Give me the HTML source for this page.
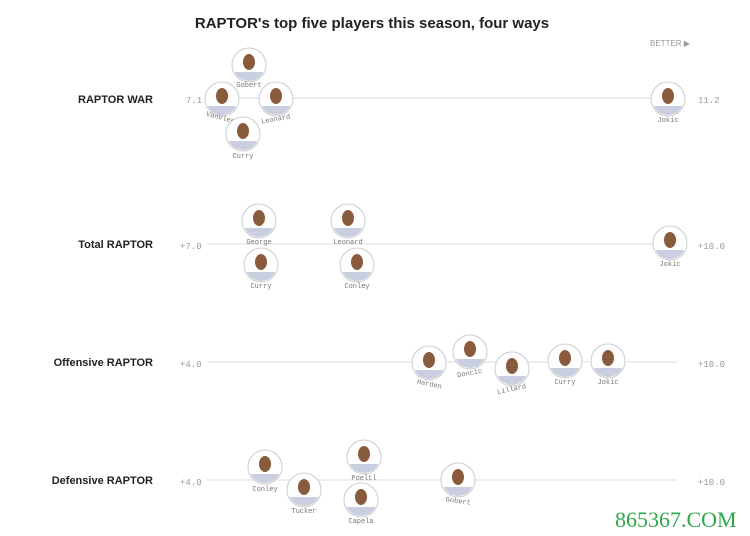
<!DOCTYPE html><html><head><style>body{margin:0;background:#fff;width:750px;height:531px;overflow:hidden}</style></head><body>
<svg width="750" height="531" xmlns="http://www.w3.org/2000/svg" font-family="Liberation Sans, sans-serif">
<defs><clipPath id="c"><circle r="16"/></clipPath>
<g id="p"><circle r="17" fill="#fff" stroke="#ccc"/><g clip-path="url(#c)"><ellipse cx="0" cy="-3" rx="6" ry="8" fill="#8a5a3c"/><rect x="-14" y="7" width="28" height="12" fill="#c9cfe0"/></g></g>
</defs>
<text x="372" y="28" text-anchor="middle" font-size="15" font-weight="bold" fill="#222">RAPTOR's top five players this season, four ways</text>
<text x="650" y="46" font-size="8" fill="#999">BETTER ▶</text>
<g font-size="11" font-weight="bold" fill="#222" text-anchor="end">
<text x="153" y="103">RAPTOR WAR</text><text x="153" y="248">Total RAPTOR</text><text x="153" y="366">Offensive RAPTOR</text><text x="153" y="484">Defensive RAPTOR</text></g>
<g stroke="#ddd" stroke-width="1"><line x1="207" y1="98" x2="677" y2="98"/><line x1="207" y1="244" x2="677" y2="244"/><line x1="207" y1="362" x2="677" y2="362"/><line x1="207" y1="480" x2="677" y2="480"/></g>
<g font-family="Liberation Mono, monospace" font-size="9" fill="#999">
<text x="186" y="103">7.1</text><text x="698" y="103">11.2</text>
<text x="180" y="249">+7.0</text><text x="698" y="249">+10.0</text>
<text x="180" y="367">+4.0</text><text x="698" y="367">+10.0</text>
<text x="180" y="485">+4.0</text><text x="698" y="485">+10.0</text></g>
<g font-family="Liberation Mono, monospace" font-size="7" fill="#777" text-anchor="middle">
<use href="#p" x="249" y="65"/><text x="249" y="87">Gobert</text>
<use href="#p" x="222" y="99"/><text x="222" y="120" transform="rotate(15 222 120)">VanVleet</text>
<use href="#p" x="276" y="99"/><text x="276" y="121" transform="rotate(-10 276 121)">Leonard</text>
<use href="#p" x="243" y="134"/><text x="243" y="158">Curry</text>
<use href="#p" x="668" y="99"/><text x="668" y="122">Jokic</text>
<use href="#p" x="259" y="221"/><text x="259" y="244">George</text>
<use href="#p" x="348" y="221"/><text x="348" y="244">Leonard</text>
<use href="#p" x="261" y="265"/><text x="261" y="288">Curry</text>
<use href="#p" x="357" y="265"/><text x="357" y="288">Conley</text>
<use href="#p" x="670" y="243"/><text x="670" y="266">Jokic</text>
<use href="#p" x="429" y="363"/><text x="429" y="386" transform="rotate(12 429 386)">Harden</text>
<use href="#p" x="470" y="352"/><text x="470" y="375" transform="rotate(-10 470 375)">Doncic</text>
<use href="#p" x="512" y="369"/><text x="512" y="391" transform="rotate(-12 512 391)">Lillard</text>
<use href="#p" x="565" y="361"/><text x="565" y="384">Curry</text>
<use href="#p" x="608" y="361"/><text x="608" y="384">Jokic</text>
<use href="#p" x="265" y="467"/><text x="265" y="491">Conley</text>
<use href="#p" x="304" y="490"/><text x="304" y="513">Tucker</text>
<use href="#p" x="364" y="457"/><text x="364" y="480">Poeltl</text>
<use href="#p" x="361" y="500"/><text x="361" y="523">Capela</text>
<use href="#p" x="458" y="480"/><text x="458" y="503" transform="rotate(8 458 503)">Gobert</text>
</g>
<text x="615" y="527" font-family="Liberation Serif, serif" font-size="22" fill="#2ea84a">865367.COM</text>
</svg></body></html>
